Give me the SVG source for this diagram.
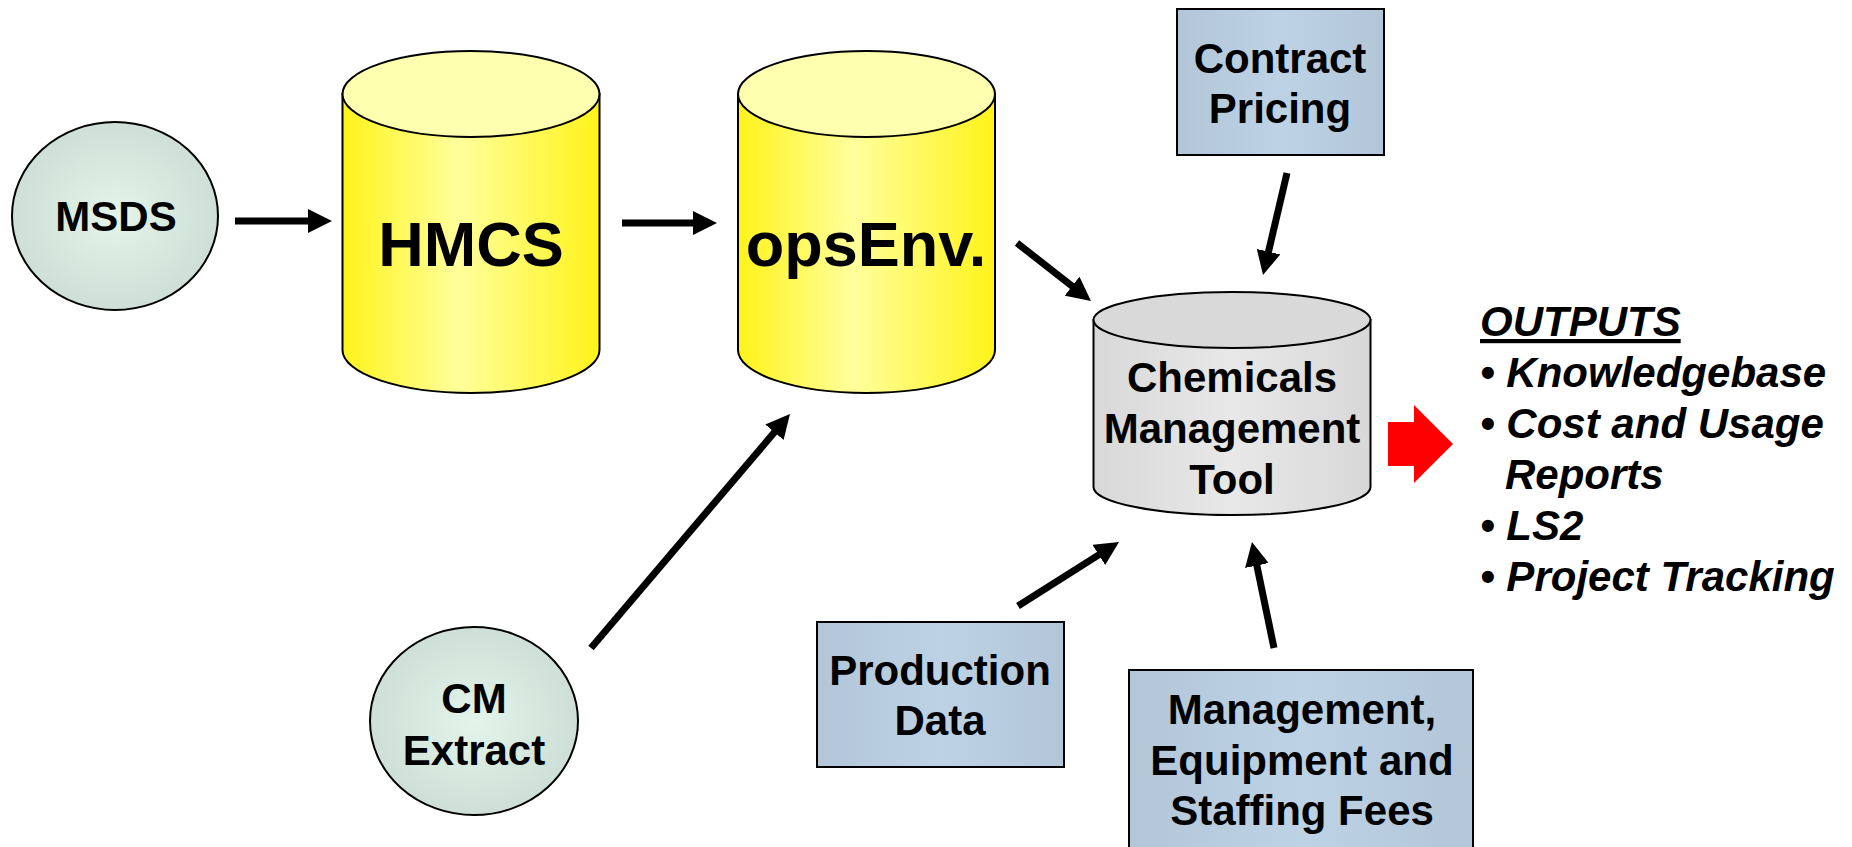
<svg xmlns="http://www.w3.org/2000/svg" width="1852" height="847" viewBox="0 0 1852 847">
<style>
.lbl{font-family:"Liberation Sans",Arial,sans-serif;font-weight:bold;fill:#000;text-anchor:middle}
.out{font-family:"Liberation Sans",Arial,sans-serif;font-weight:bold;font-style:italic;fill:#000;font-size:42px}
.shape{stroke:#000;stroke-width:2}
.conn{stroke:#000;stroke-width:7;fill:none;marker-end:url(#ah)}
</style>
<defs>
<radialGradient id="gEll" cx="0.5" cy="0.5" r="0.5">
<stop offset="0" stop-color="#e3f4eb"/>
<stop offset="1" stop-color="#cddfd6"/>
</radialGradient>
<linearGradient id="gYel" x1="0" y1="0" x2="1" y2="0">
<stop offset="0" stop-color="#fff31a"/>
<stop offset="0.45" stop-color="#ffff9c"/>
<stop offset="1" stop-color="#fff31a"/>
</linearGradient>
<linearGradient id="gGray" x1="0" y1="0" x2="1" y2="0">
<stop offset="0" stop-color="#d8d8d8"/>
<stop offset="0.5" stop-color="#e8e8e8"/>
<stop offset="1" stop-color="#d8d8d8"/>
</linearGradient>
<linearGradient id="gBox" x1="0" y1="0" x2="1" y2="0">
<stop offset="0" stop-color="#b2c6d8"/>
<stop offset="0.5" stop-color="#bdd2e5"/>
<stop offset="1" stop-color="#b2c6d8"/>
</linearGradient>
<marker id="ah" markerUnits="userSpaceOnUse" markerWidth="24" markerHeight="24" refX="14" refY="12" orient="auto">
<path d="M0,0 L24,12 L0,24 Z" fill="#000"/>
</marker>
</defs>

<g id="connectors">
<line class="conn" x1="235" y1="221" x2="322" y2="221"/>
<line class="conn" x1="622" y1="223" x2="707" y2="223"/>
<line class="conn" x1="1017" y1="243" x2="1083.1" y2="294.8"/>
<line class="conn" x1="1287" y1="173" x2="1265.3" y2="265.3"/>
<line class="conn" x1="591" y1="648" x2="783.5" y2="421.6"/>
<line class="conn" x1="1018" y1="606" x2="1110.6" y2="547.4"/>
<line class="conn" x1="1274" y1="648" x2="1254" y2="551.8"/>
</g>

<g id="msds">
<ellipse class="shape" cx="115" cy="216" rx="103" ry="94" fill="url(#gEll)"/>
<text class="lbl" x="116" y="231" font-size="42">MSDS</text>
</g>

<g id="hmcs">
<path class="shape" d="M342.5,94 L342.5,350 A128.5,43 0 0 0 599.5,350 L599.5,94 Z" fill="url(#gYel)"/>
<ellipse class="shape" cx="471" cy="94" rx="128.5" ry="43" fill="#ffffb0"/>
<text class="lbl" x="471" y="266" font-size="63">HMCS</text>
</g>

<g id="opsenv">
<path class="shape" d="M738,94 L738,350 A128.5,43 0 0 0 995,350 L995,94 Z" fill="url(#gYel)"/>
<ellipse class="shape" cx="866.5" cy="94" rx="128.5" ry="43" fill="#ffffb0"/>
<text class="lbl" x="866" y="266" font-size="63">opsEnv.</text>
</g>

<g id="contract-pricing">
<rect class="shape" x="1177" y="9" width="207" height="146" fill="url(#gBox)"/>
<text class="lbl" x="1280" y="73" font-size="42">Contract</text>
<text class="lbl" x="1280" y="123" font-size="42">Pricing</text>
</g>

<g id="cmt">
<path class="shape" d="M1093.5,320 L1093.5,487 A138.5,28 0 0 0 1370.5,487 L1370.5,320 Z" fill="url(#gGray)"/>
<ellipse class="shape" cx="1232" cy="320" rx="138.5" ry="28" fill="#d9d9d9"/>
<text class="lbl" x="1232" y="392" font-size="42">Chemicals</text>
<text class="lbl" x="1232" y="443" font-size="42">Management</text>
<text class="lbl" x="1232" y="494" font-size="42">Tool</text>
</g>

<g id="cm-extract">
<ellipse class="shape" cx="474" cy="721" rx="104" ry="94" fill="url(#gEll)"/>
<text class="lbl" x="474" y="713" font-size="42">CM</text>
<text class="lbl" x="474" y="765" font-size="42">Extract</text>
</g>

<g id="production-data">
<rect class="shape" x="817" y="622" width="247" height="145" fill="url(#gBox)"/>
<text class="lbl" x="940" y="685" font-size="42">Production</text>
<text class="lbl" x="940" y="735" font-size="42">Data</text>
</g>

<g id="fees">
<rect class="shape" x="1129" y="670" width="344" height="200" fill="url(#gBox)"/>
<text class="lbl" x="1302" y="724" font-size="42">Management,</text>
<text class="lbl" x="1302" y="775" font-size="42">Equipment and</text>
<text class="lbl" x="1302" y="825" font-size="42">Staffing Fees</text>
</g>

<g id="output-arrow">
<polygon points="1388,422 1414,422 1414,405 1453,444 1414,483 1414,466 1388,466" fill="#ff0000"/>
</g>

<g id="outputs">
<text class="out" x="1480" y="336" text-decoration="underline">OUTPUTS</text>
<text class="out" x="1480" y="387">• Knowledgebase</text>
<text class="out" x="1480" y="438">• Cost and Usage</text>
<text class="out" x="1505" y="489">Reports</text>
<text class="out" x="1480" y="540">• LS2</text>
<text class="out" x="1480" y="591">• Project Tracking</text>
</g>
</svg>
